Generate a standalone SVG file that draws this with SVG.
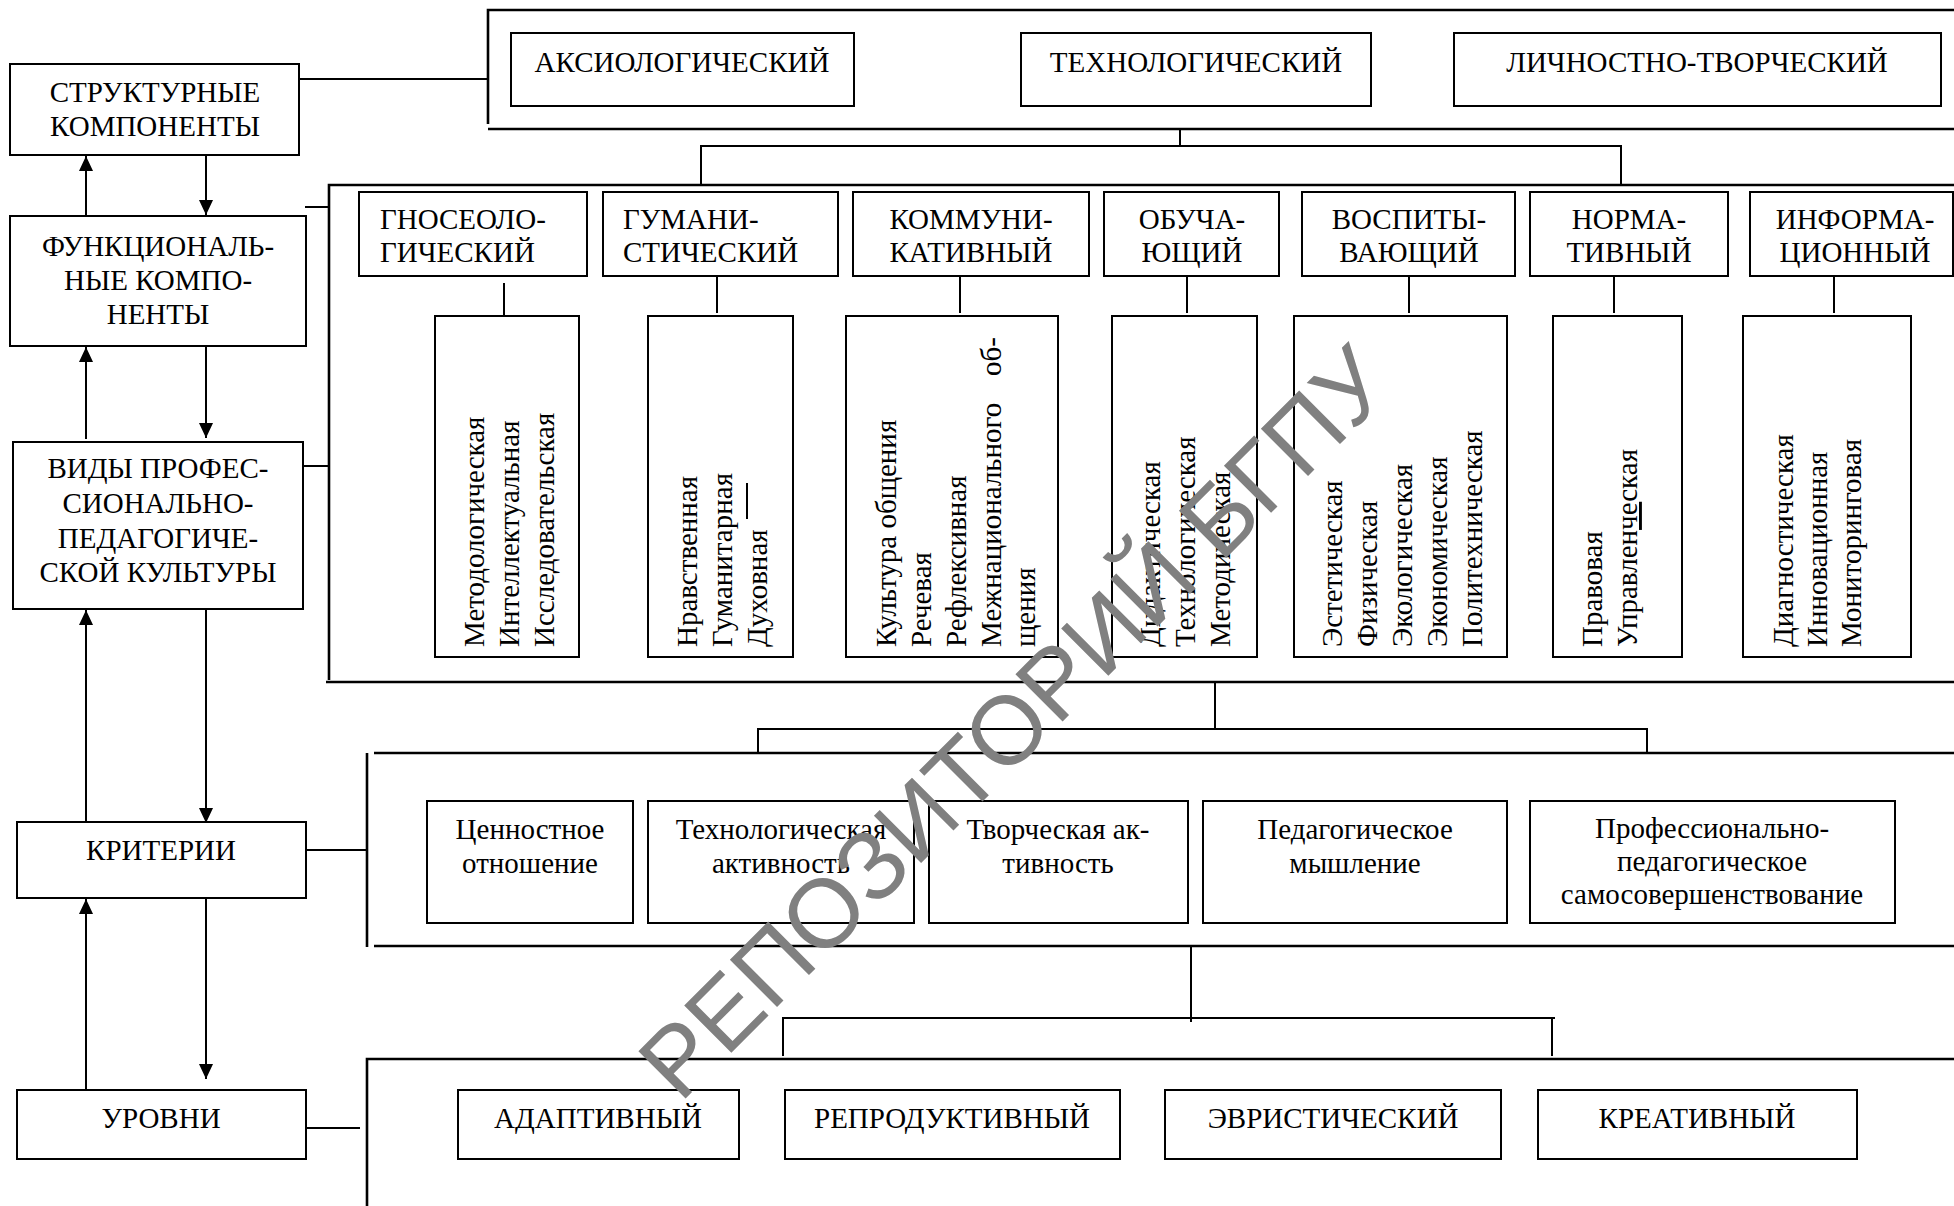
<svg xmlns="http://www.w3.org/2000/svg" width="1954" height="1206" viewBox="0 0 1954 1206">
<style>
.box{fill:#fff;stroke:#000;stroke-width:2}
.ln{stroke:#000;stroke-width:2;fill:none}
.br{stroke:#000;stroke-width:2.6;fill:none}
.t{font-family:"Liberation Serif","Times New Roman",serif;font-size:29px;fill:#000}
.c{text-anchor:middle}
.wm{font-family:"Liberation Sans",Arial,sans-serif;font-size:97px;fill:#808080}
</style>
<defs>
<marker id="ah" markerUnits="userSpaceOnUse" markerWidth="16" markerHeight="14" refX="15" refY="7" orient="auto">
<path d="M0,0 L15,7 L0,14 z" fill="#000"/>
</marker>
</defs>
<rect width="1954" height="1206" fill="#fff"/>

<g id="connectors">
<line class="ln" x1="86" y1="216" x2="86" y2="156" marker-end="url(#ah)"/>
<line class="ln" x1="206" y1="155" x2="206" y2="215" marker-end="url(#ah)"/>
<line class="ln" x1="86" y1="439" x2="86" y2="347" marker-end="url(#ah)"/>
<line class="ln" x1="206" y1="346" x2="206" y2="438" marker-end="url(#ah)"/>
<line class="ln" x1="86" y1="827" x2="86" y2="610" marker-end="url(#ah)"/>
<line class="ln" x1="206" y1="605" x2="206" y2="823" marker-end="url(#ah)"/>
<line class="ln" x1="86" y1="1090" x2="86" y2="899" marker-end="url(#ah)"/>
<line class="ln" x1="206" y1="898" x2="206" y2="1079" marker-end="url(#ah)"/>
<line class="ln" x1="299" y1="79" x2="488" y2="79"/>
<line class="ln" x1="305" y1="207" x2="329" y2="207"/>
<line class="ln" x1="302" y1="466" x2="329" y2="466"/>
<line class="ln" x1="306" y1="850" x2="367" y2="850"/>
<line class="ln" x1="306" y1="1128" x2="360" y2="1128"/>
<path class="br" d="M1954,10 H488 V124"/>
<path class="br" d="M488,129 H1954"/>
<path class="ln" d="M1180,129 V146 M701,185 V146 H1621 V185"/>
<path class="br" d="M1954,185 H329 V680"/>
<path class="br" d="M326,682 H1954"/>
<line class="ln" x1="504" y1="283" x2="504" y2="323"/>
<line class="ln" x1="717" y1="276" x2="717" y2="313"/>
<line class="ln" x1="960" y1="276" x2="960" y2="313"/>
<line class="ln" x1="1187" y1="276" x2="1187" y2="313"/>
<line class="ln" x1="1409" y1="276" x2="1409" y2="313"/>
<line class="ln" x1="1614" y1="276" x2="1614" y2="313"/>
<line class="ln" x1="1834" y1="276" x2="1834" y2="313"/>
<path class="ln" d="M1215,682 V729 M758,753 V729 H1647 V753"/>
<path class="br" d="M367,753 V947"/>
<path class="br" d="M374,753 H1954 M374,946 H1954"/>
<path class="ln" d="M1191,946 V1022 M783,1056 V1018 H1555 M1552,1018 V1056"/>
<path class="br" d="M1954,1059 H367 V1206"/>
</g>

<g id="n-struct"><rect class="box" x="10" y="64" width="289" height="91"/>
<text class="t c" x="155" y="102">СТРУКТУРНЫЕ</text><text class="t c" x="155" y="136">КОМПОНЕНТЫ</text></g>
<g id="n-func"><rect class="box" x="10" y="216" width="296" height="130"/>
<text class="t c" x="158" y="256">ФУНКЦИОНАЛЬ-</text><text class="t c" x="158" y="290">НЫЕ КОМПО-</text><text class="t c" x="158" y="324">НЕНТЫ</text></g>
<g id="n-vidy"><rect class="box" x="13" y="442" width="290" height="167"/>
<text class="t c" x="158" y="478">ВИДЫ ПРОФЕС-</text><text class="t c" x="158" y="513">СИОНАЛЬНО-</text><text class="t c" x="158" y="548">ПЕДАГОГИЧЕ-</text><text class="t c" x="158" y="582">СКОЙ КУЛЬТУРЫ</text></g>
<g id="n-krit"><rect class="box" x="17" y="822" width="289" height="76"/>
<text class="t c" x="161" y="860">КРИТЕРИИ</text></g>
<g id="n-urov"><rect class="box" x="17" y="1090" width="289" height="69"/>
<text class="t c" x="161" y="1128">УРОВНИ</text></g>

<g id="n-aksio"><rect class="box" x="511" y="33" width="343" height="73"/><text class="t c" x="682" y="72">АКСИОЛОГИЧЕСКИЙ</text></g>
<g id="n-tehno"><rect class="box" x="1021" y="33" width="350" height="73"/><text class="t c" x="1196" y="72">ТЕХНОЛОГИЧЕСКИЙ</text></g>
<g id="n-lichn"><rect class="box" x="1454" y="33" width="487" height="73"/><text class="t c" x="1697" y="72">ЛИЧНОСТНО-ТВОРЧЕСКИЙ</text></g>

<g id="n-gnoseo"><rect class="box" x="359" y="192" width="228" height="84"/>
<text class="t" x="380" y="229">ГНОСЕОЛО-</text><text class="t" x="380" y="262">ГИЧЕСКИЙ</text></g>
<g id="n-guman"><rect class="box" x="603" y="192" width="235" height="84"/>
<text class="t" x="623" y="229">ГУМАНИ-</text><text class="t" x="623" y="262">СТИЧЕСКИЙ</text></g>
<g id="n-kommun"><rect class="box" x="853" y="192" width="236" height="84"/>
<text class="t c" x="971" y="229">КОММУНИ-</text><text class="t c" x="971" y="262">КАТИВНЫЙ</text></g>
<g id="n-obuch"><rect class="box" x="1104" y="192" width="175" height="84"/>
<text class="t c" x="1192" y="229">ОБУЧА-</text><text class="t c" x="1192" y="262">ЮЩИЙ</text></g>
<g id="n-vospit"><rect class="box" x="1302" y="192" width="213" height="84"/>
<text class="t c" x="1409" y="229">ВОСПИТЫ-</text><text class="t c" x="1409" y="262">ВАЮЩИЙ</text></g>
<g id="n-norma"><rect class="box" x="1530" y="192" width="198" height="84"/>
<text class="t c" x="1629" y="229">НОРМА-</text><text class="t c" x="1629" y="262">ТИВНЫЙ</text></g>
<g id="n-inform"><rect class="box" x="1750" y="192" width="203" height="84"/>
<text class="t c" x="1855" y="229">ИНФОРМА-</text><text class="t c" x="1855" y="262">ЦИОННЫЙ</text></g>

<g id="l-gnoseo"><rect class="box" x="435" y="316" width="144" height="341"/>
<text class="t" transform="translate(484,647) rotate(-90)">Методологическая</text>
<text class="t" transform="translate(519,647) rotate(-90)">Интеллектуальная</text>
<text class="t" transform="translate(554,647) rotate(-90)">Исследовательская</text></g>
<g id="l-guman"><rect class="box" x="648" y="316" width="145" height="341"/>
<text class="t" transform="translate(697,647) rotate(-90)">Нравственная</text>
<text class="t" transform="translate(732,647) rotate(-90)">Гуманитарная</text>
<text class="t" transform="translate(767,647) rotate(-90)">Духовная</text>
<line class="ln" x1="747" y1="483" x2="747" y2="519"/></g>
<g id="l-kommun"><rect class="box" x="846" y="316" width="212" height="341"/>
<text class="t" transform="translate(896,647) rotate(-90)">Культура общения</text>
<text class="t" transform="translate(931,647) rotate(-90)">Речевая</text>
<text class="t" transform="translate(966,647) rotate(-90)">Рефлексивная</text>
<text class="t" transform="translate(1001,647) rotate(-90)">Межнационального</text>
<text class="t" transform="translate(1001,337) rotate(-90)" text-anchor="end">об-</text>
<text class="t" transform="translate(1035,647) rotate(-90)">щения</text></g>
<g id="l-obuch"><rect class="box" x="1112" y="316" width="145" height="341"/>
<text class="t" transform="translate(1160,647) rotate(-90)">Дидактическая</text>
<text class="t" transform="translate(1195,647) rotate(-90)">Технологическая</text>
<text class="t" transform="translate(1230,647) rotate(-90)">Методическая</text></g>
<g id="l-vospit"><rect class="box" x="1294" y="316" width="213" height="341"/>
<text class="t" transform="translate(1342,647) rotate(-90)">Эстетическая</text>
<text class="t" transform="translate(1377,647) rotate(-90)">Физическая</text>
<text class="t" transform="translate(1412,647) rotate(-90)">Экологическая</text>
<text class="t" transform="translate(1447,647) rotate(-90)">Экономическая</text>
<text class="t" transform="translate(1482,647) rotate(-90)">Политехническая</text></g>
<g id="l-norma"><rect class="box" x="1553" y="316" width="129" height="341"/>
<text class="t" transform="translate(1602,647) rotate(-90)">Правовая</text>
<text class="t" transform="translate(1637,647) rotate(-90)">Управлен<tspan text-decoration="underline">че</tspan>ская</text></g>
<g id="l-inform"><rect class="box" x="1743" y="316" width="168" height="341"/>
<text class="t" transform="translate(1793,647) rotate(-90)">Диагностическая</text>
<text class="t" transform="translate(1827,647) rotate(-90)">Инновационная</text>
<text class="t" transform="translate(1861,647) rotate(-90)">Мониторинговая</text></g>

<g id="k-cennost"><rect class="box" x="427" y="801" width="206" height="122"/>
<text class="t c" x="530" y="839">Ценностное</text><text class="t c" x="530" y="873">отношение</text></g>
<g id="k-tehno"><rect class="box" x="648" y="801" width="266" height="122"/>
<text class="t c" x="781" y="839">Технологическая</text><text class="t c" x="781" y="873">активность</text></g>
<g id="k-tvorch"><rect class="box" x="929" y="801" width="259" height="122"/>
<text class="t c" x="1058" y="839">Творческая ак-</text><text class="t c" x="1058" y="873">тивность</text></g>
<g id="k-pedag"><rect class="box" x="1203" y="801" width="304" height="122"/>
<text class="t c" x="1355" y="839">Педагогическое</text><text class="t c" x="1355" y="873">мышление</text></g>
<g id="k-prof"><rect class="box" x="1530" y="801" width="365" height="122"/>
<text class="t c" x="1712" y="838">Профессионально-</text><text class="t c" x="1712" y="871">педагогическое</text><text class="t c" x="1712" y="904">самосовершенствование</text></g>

<g id="u-adapt"><rect class="box" x="458" y="1090" width="281" height="69"/><text class="t c" x="598" y="1128">АДАПТИВНЫЙ</text></g>
<g id="u-repro"><rect class="box" x="785" y="1090" width="335" height="69"/><text class="t c" x="952" y="1128">РЕПРОДУКТИВНЫЙ</text></g>
<g id="u-evrist"><rect class="box" x="1165" y="1090" width="336" height="69"/><text class="t c" x="1333" y="1128">ЭВРИСТИЧЕСКИЙ</text></g>
<g id="u-kreat"><rect class="box" x="1538" y="1090" width="319" height="69"/><text class="t c" x="1697" y="1128">КРЕАТИВНЫЙ</text></g>

<text class="wm" transform="translate(680,1104) rotate(-45)">РЕПОЗИТОРИЙ БГПУ</text>
</svg>
